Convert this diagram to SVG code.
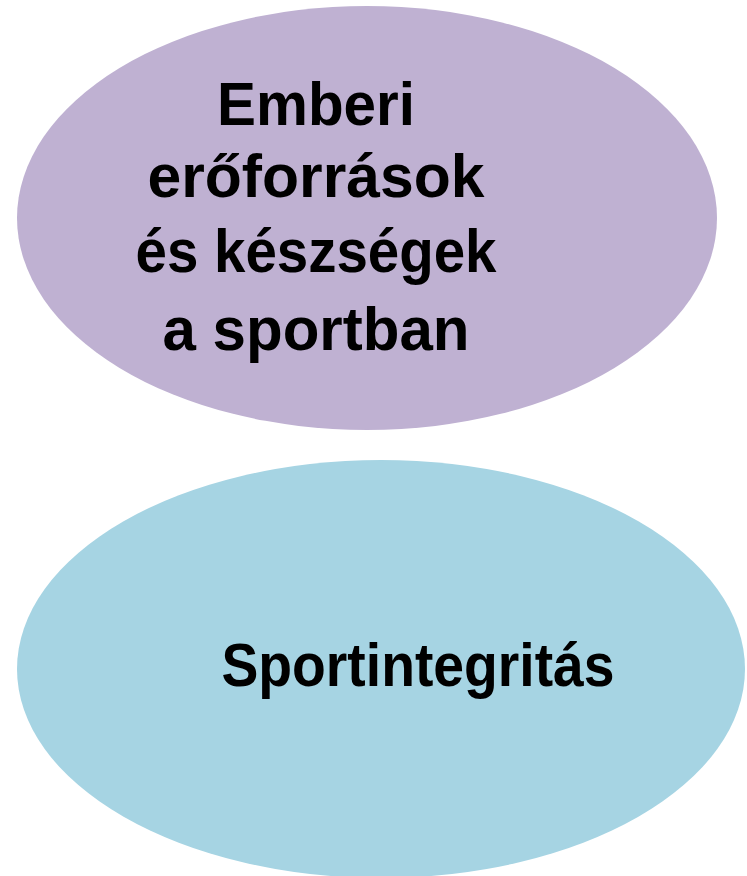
<svg xmlns="http://www.w3.org/2000/svg" width="747" height="876" viewBox="0 0 747 876">
<style>
.t{font-family:"Liberation Sans","Arial",sans-serif;font-weight:bold;font-size:61px;fill:#000;text-anchor:middle}
</style>
<rect width="747" height="876" fill="#fff"/>
<g id="node-emberi">
<ellipse cx="367" cy="218" rx="350" ry="212" fill="#BFB1D2"/>
<text class="t" x="316" y="125" textLength="198" lengthAdjust="spacingAndGlyphs">Emberi</text>
<text class="t" x="316" y="197" textLength="337" lengthAdjust="spacingAndGlyphs">erőforrások</text>
<text class="t" x="316" y="272" textLength="361" lengthAdjust="spacingAndGlyphs">és készségek</text>
<text class="t" x="316" y="350" textLength="307" lengthAdjust="spacingAndGlyphs">a sportban</text>
</g>
<g id="node-sportintegritas">
<ellipse cx="381" cy="669" rx="364" ry="209" fill="#A6D4E3"/>
<text class="t" x="418" y="686" textLength="393" lengthAdjust="spacingAndGlyphs">Sportintegritás</text>
</g>
<g id="connectors"></g>
</svg>
